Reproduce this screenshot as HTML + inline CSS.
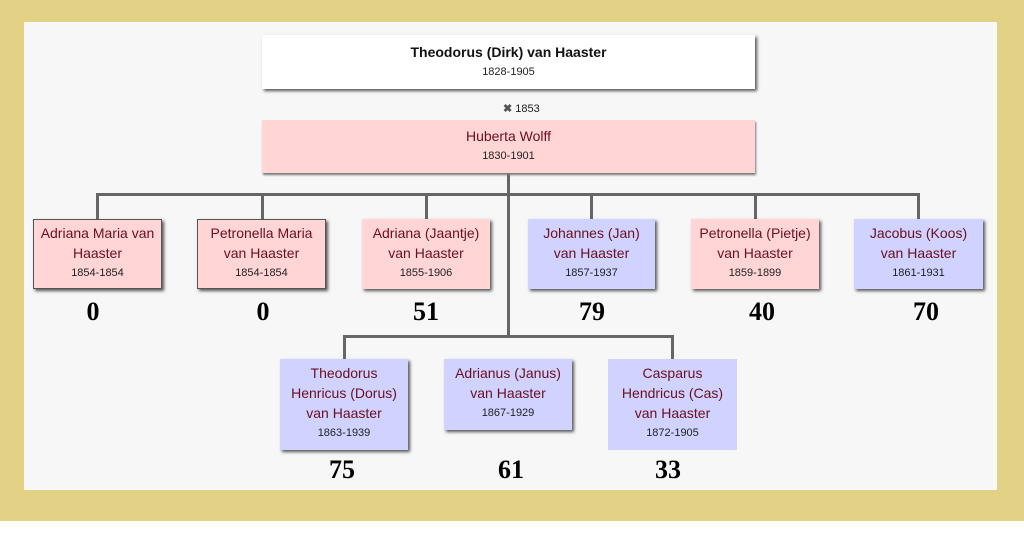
<!DOCTYPE html>
<html><head><style>
body{margin:0;width:1024px;height:543px;background:#fff;position:relative;overflow:hidden;font-family:"Liberation Sans",sans-serif}
.gold{position:absolute;left:0;top:0;width:1024px;height:521px;background:#e3d185}
.panel{position:absolute;left:24px;top:22px;width:973px;height:468px;background:#f7f7f7}
.b{position:absolute;box-sizing:border-box;text-align:center;color:#6b0f1f;font-size:14px;line-height:20px;box-shadow:2px 2px 3px #555;padding-top:4px;white-space:nowrap}
.b small{display:block;color:#222;font-size:11px;line-height:20px}
.p{background:#ffd5d5}.m{background:#d0d2ff}
.l{position:absolute;background:#666}
.n{position:absolute;font-family:"Liberation Serif",serif;font-weight:bold;font-size:26px;transform:translateX(-50%);color:#000}
</style></head><body>
<div class="gold"></div><div class="panel"></div>
<div class="l" style="left:507px;top:173px;width:3px;height:164px"></div>
<div class="l" style="left:96px;top:193px;width:824px;height:3px"></div>
<div class="l" style="left:96px;top:193px;width:3px;height:26px"></div>
<div class="l" style="left:261px;top:193px;width:3px;height:26px"></div>
<div class="l" style="left:425px;top:193px;width:3px;height:26px"></div>
<div class="l" style="left:590px;top:193px;width:3px;height:26px"></div>
<div class="l" style="left:754px;top:193px;width:3px;height:26px"></div>
<div class="l" style="left:917px;top:193px;width:3px;height:26px"></div>
<div class="l" style="left:343px;top:335px;width:331px;height:3px"></div>
<div class="l" style="left:343px;top:335px;width:3px;height:24px"></div>
<div class="l" style="left:671px;top:335px;width:3px;height:24px"></div>
<div class="b" style="left:262px;top:35px;width:493px;height:54px;background:#fff;color:#111;font-weight:bold;padding-top:7px">Theodorus (Dirk) van Haaster<small style="font-weight:normal">1828-1905</small></div>
<div style="position:absolute;left:503px;top:102px;font-size:11px;color:#222"><b style="color:#555">✖</b> 1853</div>
<div class="b p" style="left:262px;top:120px;width:493px;height:53px;padding-top:6px;box-shadow:1px 2px 2px #777">Huberta Wolff<small>1830-1901</small></div>
<div class="b p" style="left:33px;top:219px;width:129px;height:70px;border:1px solid #555;padding-top:3px">Adriana Maria van<br>Haaster<small>1854-1854</small></div>
<div class="b p" style="left:197px;top:219px;width:129px;height:70px;border:1px solid #555;padding-top:3px">Petronella Maria<br>van Haaster<small>1854-1854</small></div>
<div class="b p" style="left:362px;top:219px;width:128px;height:70px">Adriana (Jaantje)<br>van Haaster<small>1855-1906</small></div>
<div class="b m" style="left:528px;top:219px;width:127px;height:70px">Johannes (Jan)<br>van Haaster<small>1857-1937</small></div>
<div class="b p" style="left:691px;top:219px;width:128px;height:70px">Petronella (Pietje)<br>van Haaster<small>1859-1899</small></div>
<div class="b m" style="left:854px;top:219px;width:129px;height:70px">Jacobus (Koos)<br>van Haaster<small>1861-1931</small></div>
<div class="b m" style="left:280px;top:359px;width:128px;height:91px">Theodorus<br>Henricus (Dorus)<br>van Haaster<small>1863-1939</small></div>
<div class="b m" style="left:444px;top:359px;width:128px;height:71px">Adrianus (Janus)<br>van Haaster<small>1867-1929</small></div>
<div class="b m" style="left:608px;top:359px;width:129px;height:91px;box-shadow:none">Casparus<br>Hendricus (Cas)<br>van Haaster<small>1872-1905</small></div>
<div class="n" style="left:93px;top:297px">0</div>
<div class="n" style="left:263px;top:297px">0</div>
<div class="n" style="left:426px;top:297px">51</div>
<div class="n" style="left:592px;top:297px">79</div>
<div class="n" style="left:762px;top:297px">40</div>
<div class="n" style="left:926px;top:297px">70</div>
<div class="n" style="left:342px;top:455px">75</div>
<div class="n" style="left:511px;top:455px">61</div>
<div class="n" style="left:668px;top:455px">33</div>
</body></html>
